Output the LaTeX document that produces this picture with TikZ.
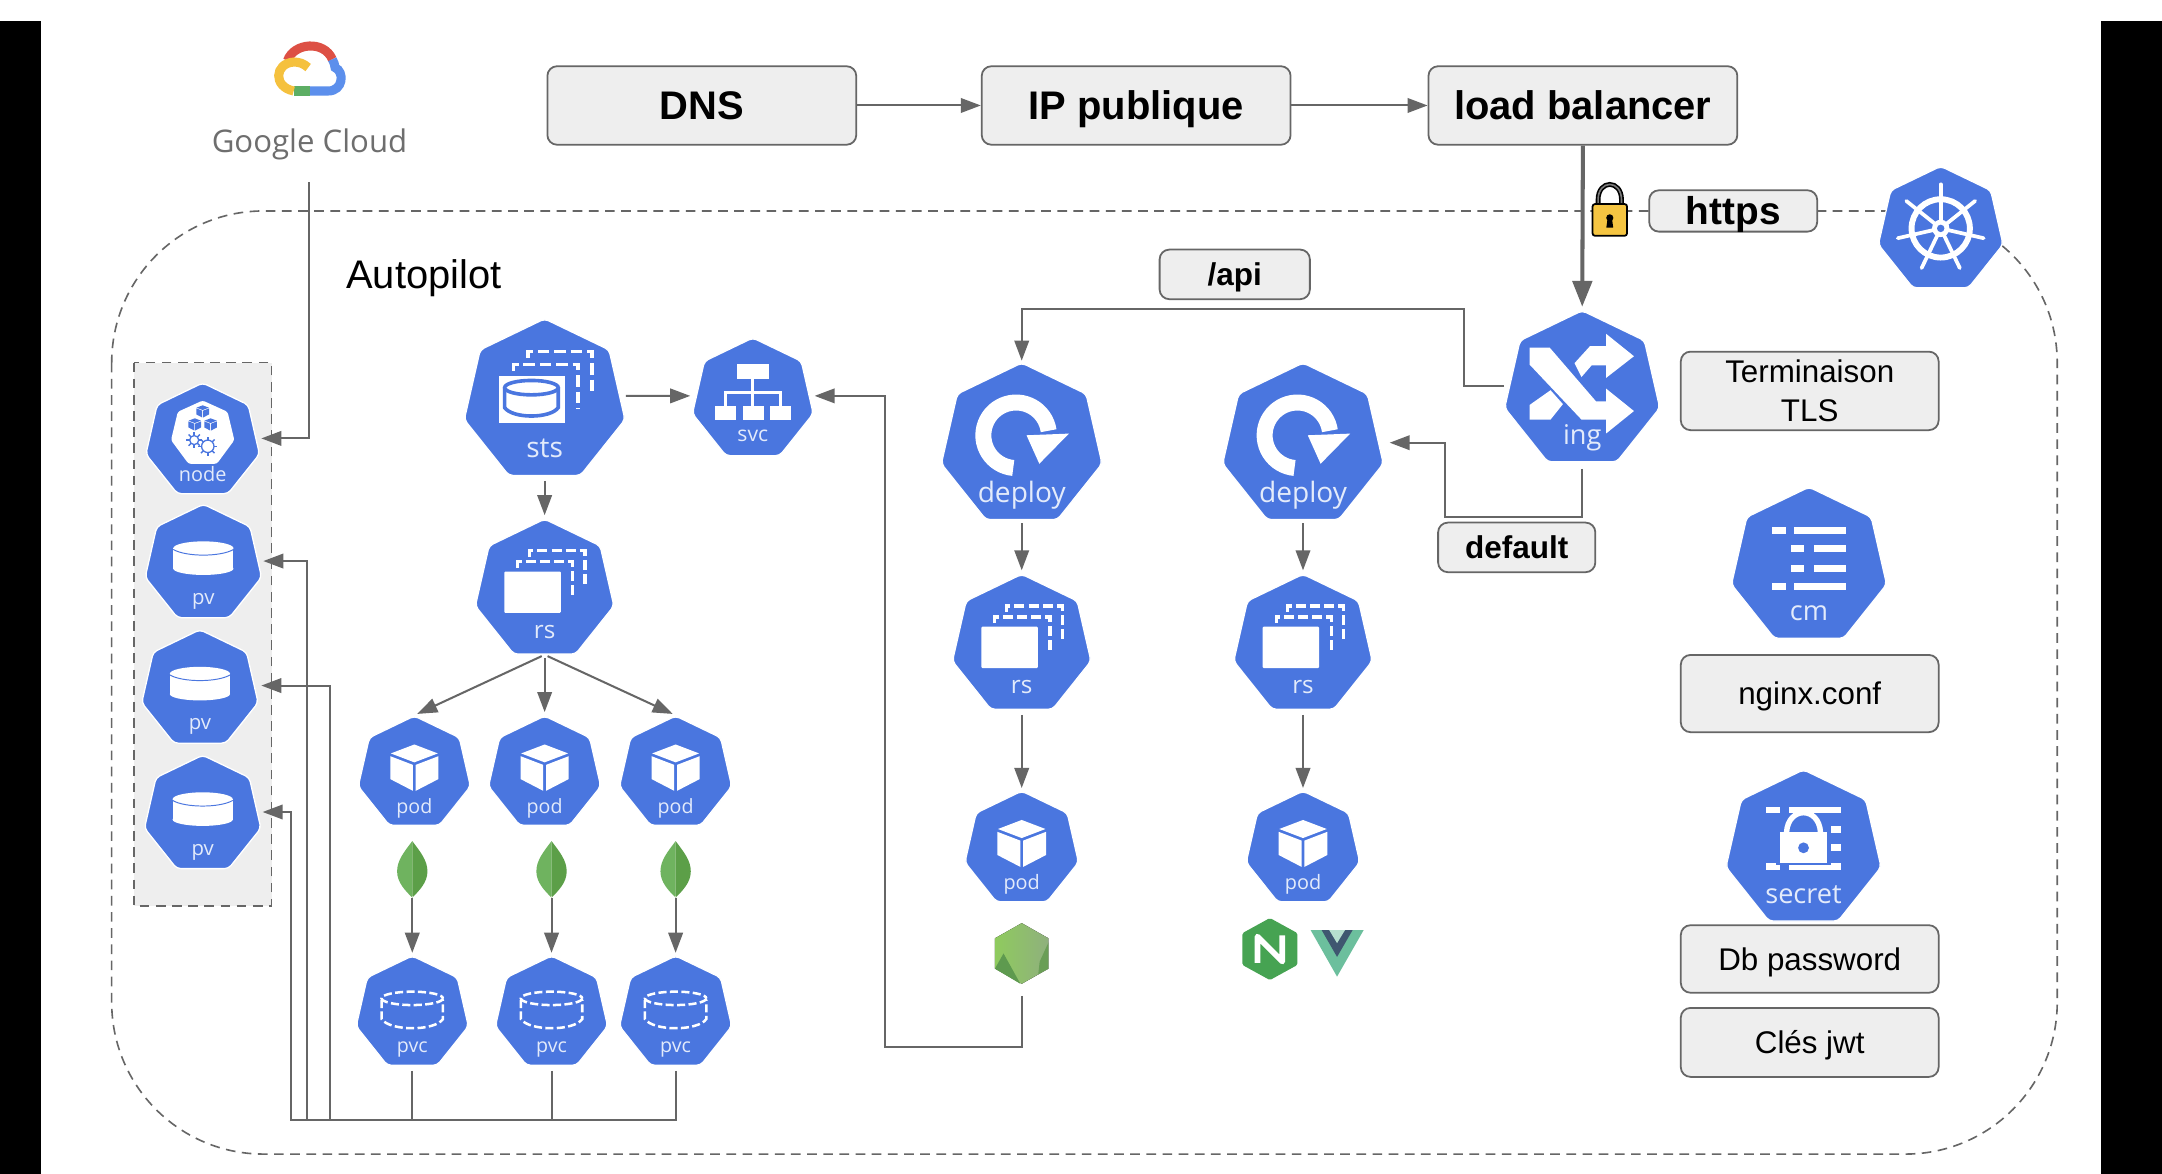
\documentclass[tikz,border=0pt]{standalone}
\usepackage{fontspec}
\setmainfont{Liberation Sans}
\newfontfamily\kfont{Open Sans}
\usetikzlibrary{shapes.geometric,arrows.meta}
\definecolor{kblue}{HTML}{4A76DF}
\definecolor{cgray}{HTML}{666666}
\definecolor{boxfill}{HTML}{EEEEEE}
\definecolor{klabel}{HTML}{E3EBFB}
\definecolor{leafL}{HTML}{6FB35F}
\definecolor{leafR}{HTML}{5C9F48}
\definecolor{leafS}{HTML}{C9D8BE}
\definecolor{gRed}{HTML}{DD5044}
\definecolor{gBlue}{HTML}{5C8FEC}
\definecolor{gGreen}{HTML}{5DAE64}
\definecolor{gYellow}{HTML}{F5C13E}
\definecolor{gcText}{HTML}{6E6E6E}
\definecolor{lockGray}{HTML}{7A7A7A}
\definecolor{lockGold}{HTML}{F5C542}
\definecolor{njsMid}{HTML}{8FB07D}
\definecolor{njsLight}{HTML}{8FCB5E}
\definecolor{njsDark}{HTML}{5E9A4F}
\definecolor{njsRight}{HTML}{6A9E56}
\definecolor{ngxGreen}{HTML}{46A352}
\definecolor{vueGreen}{HTML}{6CBF9D}
\definecolor{vueDark}{HTML}{3F5770}
\tikzset{
 kube/.style={regular polygon,regular polygon sides=7,fill=kblue,draw=white,line width=.8pt,inner sep=0pt,rounded corners=2.5pt},
 boxx/.style={rectangle,draw=cgray,fill=boxfill,line width=1.1pt,rounded corners=6pt,inner sep=0pt,align=center,text=black},
 bigb/.style={boxx,minimum width=191.2pt,minimum height=48.6pt,text height=17.7pt,text depth=0pt,font=\bfseries\fontsize{24.7}{28}\selectfont},
 midb/.style={boxx,minimum height=30.7pt,text height=14pt,text depth=0pt,font=\bfseries\fontsize{19.5}{24}\selectfont},
 sideb/.style={boxx,minimum width=159.6pt,text height=14pt,text depth=0pt,font=\fontsize{19.4}{24}\selectfont},
 arr/.style={-{Triangle[length=12.4pt,width=9pt]},draw=cgray,line width=1.25pt},
 arrthick/.style={-{Triangle[length=16pt,width=12pt]},draw=cgray,line width=2.5pt},
 ghost/.style={inner sep=0pt,minimum width=#1pt,minimum height=#1pt}
}
\newcommand\kube[6]{%
 \pgfmathsetmacro\ru{#4*0.8536}%
 \pgfmathsetmacro\fs{#4*0.3}%
 \pgfmathsetlengthmacro\dOn{0.145*\ru}%
 \pgfmathsetlengthmacro\dOff{0.06*\ru}%
 \pgfmathsetlengthmacro\lwA{0.045*\ru}%
 \pgfmathsetlengthmacro\kmin{2.06*\ru}%
 \node[kube,minimum size=\kmin] (#1) at (#2,#3) {};
 \begin{scope}[shift={(#2,#3)},scale=#4]
  #6
  \node[inner sep=0pt,text=klabel,font=\kfont\fontsize{\fs}{\fs}\selectfont] (#1-t) at (0,.63) {\strut #5};
 \end{scope}}
\newcommand\icoPod{%
 \fill[white] (0,-.52)--(.42,-.36)--(0,-.2)--(-.42,-.36)--cycle;
 \fill[white] (-.43,-.31)--(-.025,-.155)--(-.025,.31)--(-.43,.1)--cycle;
 \fill[white] (.43,-.31)--(.025,-.155)--(.025,.31)--(.43,.1)--cycle;}
\newcommand\icoBack[5]{\draw[white,line width=\lwA,dash pattern=on \dOn off \dOff] (#1,#3)--(#1,#2)--(#4,#2)--(#4,#5);}
\newcommand\icoRs{%
 \icoBack{-.39}{-.41}{-.32}{.41}{.07}
 \icoBack{-.22}{-.57}{-.48}{.585}{-.05}
 \fill[white,rounded corners=.6pt] (-.585,-.27) rectangle (.234,.33);}
\newcommand\icoSts{%
 \icoBack{-.39}{-.46}{-.38}{.42}{.1}
 \icoBack{-.21}{-.62}{-.54}{.59}{-.1}
 \fill[white] (-.575,-.32) rectangle (.25,.27);
 \draw[kblue,line width=\lwA] (-.5,-.17)--(-.5,.08) .. controls (-.4,.22) and (.07,.22) .. (.17,.08)--(.17,-.17);
 \draw[kblue,line width=\lwA] (-.165,-.17) ellipse[x radius=.335,y radius=.09];}
\newcommand\icoPv{%
 \fill[white] (-.52,-.27) rectangle (.52,.08);
 \fill[white] (0,-.27) ellipse[x radius=.52,y radius=.12];
 \fill[white] (0,.08) ellipse[x radius=.52,y radius=.11];
 \draw[kblue,line width=.6pt] (-.52,-.25) .. controls (-.3,-.12) and (.3,-.12) .. (.52,-.25);}
\newcommand\icoPvc{%
 \draw[white,line width=\lwA,dash pattern=on \dOn off \dOff] (0,-.27) ellipse[x radius=.55,y radius=.12];
 \draw[white,line width=\lwA,dash pattern=on \dOn off \dOff] (-.55,-.24)--(-.55,.1) .. controls (-.4,.32) and (.4,.32) .. (.55,.1)--(.55,-.24);}
\newcommand\icoDeploy{%
 \draw[white,line width={.2*\ru pt}] plot[smooth,domain=95:352,samples=40] ({-.07+.41*cos(\x)},{-.126+.41*sin(\x)});
 \fill[white] (.06,-.126)--(.59,-.147)--(.22,.23)--cycle;}
\newcommand\icoSvc{%
 \fill[white] (-.27,-.6) rectangle (.27,-.35);
 \fill[white] (-.63,.1) rectangle (-.285,.34);
 \fill[white] (-.17,.1) rectangle (.18,.34);
 \fill[white] (.29,.1) rectangle (.64,.34);
 \draw[white,line width=\lwA] (0,-.35)--(0,.1) (-.46,.1)--(-.46,-.12)--(.46,-.12)--(.46,.1);}
\newcommand\icoIng{%
 \fill[white] (-.68,-.55)--(-.42,-.55)--(.18,.146)--(.31,.146)--(.31,-.02)--(.67,.27)--(.31,.56)--(.31,.38)--(-.01,.38)--(-.68,-.33)--cycle;
 \fill[white] (.67,-.44)--(.31,-.16)--(.31,-.32)--(.12,-.32)--(-.01,-.17)--(-.10,-.35)--(.1,-.57)--(.31,-.57)--(.31,-.73)--cycle;
 \fill[white] (-.68,.19)--(-.41,0)--(-.25,.18)--(-.41,.38)--(-.68,.38)--cycle;}
\newcommand\rowbar[3]{\fill[white] (#1,#3-.045) rectangle (#2,#3+.045);}
\newcommand\icoCm{%
 \rowbar{-.48}{-.30}{-.47}\rowbar{-.19}{.48}{-.47}
 \rowbar{-.23}{-.07}{-.23}\rowbar{.06}{.48}{-.23}
 \rowbar{-.23}{-.07}{.02}\rowbar{.06}{.48}{.02}
 \rowbar{-.48}{-.30}{.26}\rowbar{-.19}{.48}{.26}}
\newcommand\icoSecret{%
 \rowbar{-.49}{-.31}{-.51}\rowbar{-.19}{.49}{-.51}
 \rowbar{.2}{.49}{-.26}
 \rowbar{.34}{.49}{-.02}
 \rowbar{-.49}{-.31}{.22}\rowbar{-.19}{.49}{.22}
 \fill[kblue] (-.36,-.46) rectangle (.36,.2);
 \draw[white,line width={.07*\ru pt}] (-.22,-.22) .. controls (-.2,-.56) and (.2,-.56) .. (.22,-.22);
 \fill[white] (-.31,-.22) rectangle (.31,.18);
 \fill[kblue] (0,-.02) circle (.07);}
\newcommand\gear[3]{%
 \foreach \a in {0,45,...,315}{\draw[kblue,line width=.9pt] ({#1+#3*cos(\a)},{#2+#3*sin(\a)})--({#1+(#3+.06)*cos(\a)},{#2+(#3+.06)*sin(\a)});}
 \draw[kblue,line width=.8pt] (#1,#2) circle (#3);}
\newcommand\minicube[2]{%
 \begin{scope}[shift={(#1,#2)},scale=.26]
 \fill[kblue] (0,-.52)--(.42,-.36)--(0,-.2)--(-.42,-.36)--cycle;
 \fill[kblue] (-.43,-.31)--(-.03,-.155)--(-.03,.31)--(-.43,.1)--cycle;
 \fill[kblue] (.43,-.31)--(.03,-.155)--(.03,.31)--(.43,.1)--cycle;
 \end{scope}}
\newcommand\icoNode{%
 \fill[white,rounded corners=1.5pt] (0,-.72) -- (0.44,-.52)--(.56,-.02)--(.25,.4)--(-.25,.4)--(-.56,-.02)--(-.44,-.52)--cycle;
 \minicube{0}{-.5}\minicube{-.14}{-.27}\minicube{.14}{-.27}
 \gear{-.15}{-.02}{.08}\gear{.09}{.09}{.11}}
\newcommand\icoHelm{%
 \draw[white,line width={.095*\ru pt}] (0,-.03) circle (.47);
 \foreach \a in {-90,-38.57,12.86,64.29,115.71,167.14,218.57}{
  \draw[white,line width={.06*\ru pt},line cap=round] (0,-.03) -- ++(\a:.71);}
 \fill[white] (0,-.03) circle (.14);
 \fill[kblue] (0,-.03) circle (.06);}
\newcommand\leaf[2]{%
 \node[ghost=8] (#1) at (#2,646) {};
 \begin{scope}[shift={(#2,0)}]
 \fill[leafL] (0,610) .. controls (-6,618) and (-11,624) .. (-11,632) .. controls (-11,640) and (-5,646) .. (0,651)--cycle;
 \fill[leafR] (0,610) .. controls (6,618) and (11,624) .. (11,632) .. controls (11,640) and (5,646) .. (0,651)--cycle;
 \draw[leafS,line width=.8pt] (0,650)--(0,654);
 \end{scope}}
\begin{document}
\begin{tikzpicture}[x=0.03cm,y=-0.03cm]
\useasboundingbox (0,0) rectangle (1568,851.4);
\fill[white] (0,0) rectangle (1568,851.4);
\fill[black] (0,15) rectangle (30,851.4);
\fill[black] (1524,15) rectangle (1568,851.4);
% outer dashed frame
\draw[cgray,line width=1pt,dash pattern=on 6pt off 4pt,rounded corners=94pt] (81,153) rectangle (1492,837);
\fill[boxfill] (97,263) rectangle (197,657);
\draw[cgray,line width=1pt,dash pattern=on 6pt off 4pt] (97,263) rectangle (197,657);
% Google cloud logo
\draw[gRed,line width=5.6pt] (208.5,44) .. controls (213,31) and (235,29) .. (241,43);
\draw[gBlue,line width=5.6pt] (241,43) .. controls (242,45) and (243,47) .. (243,49) .. controls (250,52) and (249,66) .. (238,66) -- (225,66);
\draw[gGreen,line width=5.6pt] (225,66)--(213,66);
\draw[gYellow,line width=5.6pt] (213,66) .. controls (198,63) and (199,46) .. (213,45) .. controls (217,45) and (220,46) .. (223.5,49);
\node[inner sep=0pt,text=gcText,font=\kfont\fontsize{19.3}{22}\selectfont] (gc) at (224.5,105) {Google Cloud};
\coordinate (gcbot) at (224,132);
% boxes
\node[bigb] (dns) at (509,76.5) {DNS};
\node[bigb] (ip) at (824,76.5) {IP publique};
\node[bigb] (lb) at (1148,76.5) {load balancer};
\node[boxx,minimum width=104pt,minimum height=25.6pt,text height=17.3pt,text depth=0pt,font=\bfseries\fontsize{24}{28}\selectfont] (https) at (1257,153) {https};
\node[midb,minimum width=93pt] (api) at (895.5,199) {/api};
\node[midb,minimum width=97.3pt] (def) at (1100,397) {default};
\node[boxx,minimum width=159.6pt,minimum height=48.6pt,font=\fontsize{19.4}{24}\selectfont] (tls) at (1312.5,283.5) {Terminaison\\TLS};
\node[sideb,minimum height=47.8pt] (nginxc) at (1312.5,503) {nginx.conf};
\node[sideb,minimum height=41.8pt] (dbp) at (1312.5,695.5) {Db password};
\node[sideb,minimum height=42.7pt] (jwt) at (1312.5,756) {Clés jwt};
\node[inner sep=0pt,font=\fontsize{24.7}{28}\selectfont] (auto) at (307.5,202) {Autopilot};
% lock
\draw[black,line width=3pt] (1159,150)--(1159,145) .. controls (1159,130) and (1176,130) .. (1176,145)--(1176,150);
\draw[lockGray,line width=1pt] (1159,150)--(1159,145) .. controls (1159,130) and (1176,130) .. (1176,145)--(1176,150);
\draw[black,fill=lockGold,line width=1.1pt,rounded corners=1.5pt] (1155,148) rectangle (1180,171);
\fill[black] (1167.5,158) circle (2.6);
\fill[black] (1166,158)--(1169,158)--(1170,165)--(1165,165)--cycle;
% kubernetes objects
\kube{nodeK}{147}{320}{41}{node}{\icoNode}
\kube{pvA}{147.5}{409}{42}{pv}{\icoPv}
\kube{pvB}{145}{500}{42}{pv}{\icoPv}
\kube{pvC}{147}{591}{42}{pv}{\icoPv}
\kube{sts}{395}{291}{58}{sts}{\icoSts}
\kube{svc}{546}{290}{43.6}{svc}{\icoSvc}
\kube{rsA}{395}{428}{50}{rs}{\icoRs}
\kube{podA}{300.5}{561}{40.5}{pod}{\icoPod}
\kube{podB}{395}{561}{40.5}{pod}{\icoPod}
\kube{podC}{490}{561}{40.5}{pod}{\icoPod}
\kube{pvcA}{299}{735}{40.5}{pvc}{\icoPvc}
\kube{pvcB}{400}{735}{40.5}{pvc}{\icoPvc}
\kube{pvcC}{490}{735}{40.5}{pvc}{\icoPvc}
\kube{depA}{741}{323}{58}{deploy}{\icoDeploy}
\kube{depB}{945}{323}{58}{deploy}{\icoDeploy}
\kube{rsB}{741}{468}{50}{rs}{\icoRs}
\kube{rsC}{945}{468}{50}{rs}{\icoRs}
\kube{podD}{741}{616}{41}{pod}{\icoPod}
\kube{podE}{945}{616}{41}{pod}{\icoPod}
\kube{ing}{1147.5}{283}{56}{ing}{\icoIng}
\kube{helm}{1407.5}{167}{45}{}{\icoHelm}
\kube{cm}{1312}{411}{56}{cm}{\icoCm}
\kube{secret}{1308}{616}{56}{secret}{\icoSecret}
% leaves
\leaf{leafA}{299}\leaf{leafB}{400}\leaf{leafC}{490}
% node.js
\node[ghost=40] (njs) at (741,691.5) {};
\begin{scope}[shift={(741,691.5)}]
\fill[left color=njsLight,right color=njsMid] (0,-22)--(19.4,-11)--(19.4,11)--(0,22)--(-19.4,11)--(-19.4,-11)--cycle;
\fill[njsDark] (-19.4,11)--(-13.2,0)--(-1,22)--cycle;
\fill[njsRight] (19.4,-8)--(19.4,11)--(12,15)--(13,6)--cycle;
\end{scope}
% nginx
\node[ghost=40] (ngx) at (921,688.3) {};
\begin{scope}[shift={(921,688.3)}]
\fill[ngxGreen,rounded corners=1pt] (0,-22.5)--(20,-11.5)--(20,11.5)--(0,22.5)--(-20,11.5)--(-20,-11.5)--cycle;
\draw[white,line width=3.6pt,line join=round] (-9,10)--(-9,-9)--(9,9)--(9,-10);
\end{scope}
% vue
\node[ghost=30] (vue) at (970,690) {};
\fill[vueGreen] (950.5,674.5)--(989,674.5)--(969.7,708.3)--cycle;
\fill[vueDark] (958.5,674.5)--(981,674.5)--(969.7,694)--cycle;
\fill[white!50!vueGreen] (964,674.5)--(975.5,674.5)--(969.7,684)--cycle;
% connectors
\draw[arr] (dns.east)--(ip.west);
\draw[arr] (ip.east)--(lb.west);
\draw[arrthick,shorten >=2pt] (lb.south)--(ing.north);
\draw[arr,shorten >=3pt] (gcbot)|-(nodeK.3);
\draw[arr,shorten <=3.5pt,shorten >=3.5pt] (sts.4)--(svc.176);
\draw[arr,shorten <=3pt,shorten >=2pt] (sts.south)--(rsA.north);
\draw[arr,shorten <=2pt,shorten >=2pt] (rsA.south)--(podA.north);
\draw[arr,shorten <=2pt,shorten >=2pt] (rsA.south)--(podB.north);
\draw[arr,shorten <=2pt,shorten >=2pt] (rsA.south)--(podC.north);
\draw[arr,shorten >=1.5pt] (leafA.south)--(pvcA.north);
\draw[arr,shorten >=1.5pt] (leafB.south)--(pvcB.north);
\draw[arr,shorten >=1.5pt] (leafC.south)--(pvcC.north);
\coordinate (busA) at (223,812);
\coordinate (busB) at (239,812);
\coordinate (busC) at (211,812);
\draw[arr,shorten <=3pt,shorten >=3pt] (pvcA.south)--(pvcA.south|-busA)--(busA)|-(pvA.3);
\draw[arr,shorten <=3pt,shorten >=4pt] (pvcB.south)--(pvcB.south|-busB)--(busB)|-(pvB.4);
\draw[arr,shorten <=3pt,shorten >=3pt] (pvcC.south)--(pvcC.south|-busC)--(busC)|-(pvC.3);
\coordinate (svcbend) at (642,759);
\draw[arr,shorten <=6pt,shorten >=3pt] (njs.south)|-(svcbend)|-(svc.4);
\coordinate (apibend) at (1062,224);
\draw[arr,shorten <=3pt,shorten >=1pt] (ing.177)-|(apibend)-|(depA.north);
\coordinate (defbend) at (1048,375);
\draw[arr,shorten <=4pt,shorten >=6.5pt] (ing.south)|-(defbend)|-(depB.2);
\draw[arr,shorten <=2pt,shorten >=2pt] (depA.south)--(rsB.north);
\draw[arr,shorten <=2pt,shorten >=2pt] (depB.south)--(rsC.north);
\draw[arr,shorten <=3pt,shorten >=1.5pt] (rsB.south)--(podD.north);
\draw[arr,shorten <=3pt,shorten >=1.5pt] (rsC.south)--(podE.north);
\end{tikzpicture}
\end{document}
